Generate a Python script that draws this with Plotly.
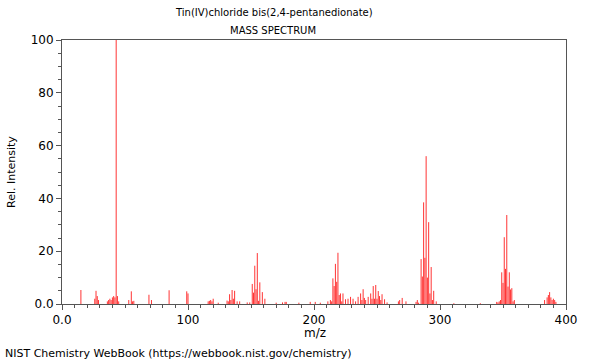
import plotly.graph_objects as go

# m/z values and relative intensities
mz = [15, 26, 27, 28, 29, 36, 37, 38, 39, 40, 41, 42, 43, 44, 45, 53, 55, 56, 57,
      69, 71, 85, 99, 100, 116, 117, 118, 119, 120, 124, 131, 132, 133, 134, 135,
      136, 137, 139, 141, 147, 149, 151, 152, 153, 154, 155, 156, 157, 159, 161,
      170, 175, 177, 178, 188, 197, 201, 205, 211, 213, 214, 215, 216, 217, 218,
      219, 220, 221, 222, 223, 225, 227, 229, 231, 233, 235, 237, 238, 239, 240,
      241, 243, 245, 246, 247, 248, 249, 250, 251, 252, 253, 254, 256, 258, 267,
      268, 270, 273, 281, 282, 283, 285, 286, 287, 288, 289, 290, 291, 292, 293,
      294, 295, 297, 311, 332, 345, 346, 347, 348, 349, 350, 351, 352, 353, 354,
      355, 356, 357, 358, 359, 383, 385, 386, 387, 388, 389, 390, 391, 392]
intensity = [5.3, 2.0, 5.0, 3.0, 1.5, 1.0, 1.5, 2.0, 1.5, 2.5, 3.0, 2.5, 100.0, 3.0, 1.0,
             1.5, 4.8, 1.0, 1.2, 3.5, 1.5, 5.2, 4.8, 4.0, 1.0, 1.2, 1.5, 1.0, 2.0, 0.5,
             1.3, 1.0, 3.7, 1.5, 5.3, 2.0, 5.0, 1.0, 1.0, 0.6, 0.6, 7.6, 4.3, 14.5, 5.6,
             19.3, 1.2, 8.2, 4.5, 2.0, 0.5, 0.6, 0.8, 0.8, 0.5, 0.8, 0.8, 0.5, 1.0, 1.5,
             1.0, 9.7, 6.8, 15.2, 8.4, 19.4, 3.4, 4.0, 1.0, 4.0, 1.8, 2.0, 2.7, 2.0, 1.0,
             2.7, 4.0, 1.5, 5.6, 2.3, 1.5, 2.7, 4.0, 2.0, 6.8, 2.0, 7.2, 2.0, 4.9, 3.0,
             1.5, 3.7, 1.8, 0.6, 1.0, 1.5, 2.3, 1.0, 0.8, 1.5, 0.5, 17.0, 10.4, 38.5,
             17.5, 56.0, 10.0, 31.0, 4.0, 14.0, 1.5, 5.0, 1.0, 0.3, 0.3, 0.8, 0.6, 1.0,
             1.5, 12.0, 8.0, 25.3, 13.3, 33.7, 6.6, 12.0, 5.5, 6.0, 1.0, 1.5, 1.5, 2.5,
             3.4, 4.5, 2.5, 1.5, 2.0, 1.5, 0.8]

x_tickvals = [0, 100, 200, 300, 400]
x_ticktext = ["0.0", "100", "200", "300", "400"]
y_tickvals = [0, 20, 40, 60, 80, 100]
y_ticktext = ["0.0", "20", "40", "60", "80", "100"]

title1 = "Tin(IV)chloride bis(2,4-pentanedionate)"
title2 = "MASS SPECTRUM"
footer = "NIST Chemistry WebBook (https://webbook.nist.gov/chemistry)"

# build stick segments
xs, ys = [], []
for m, v in zip(mz, intensity):
    xs += [m, m, None]
    ys += [0, v, None]

fig = go.Figure()
fig.add_trace(go.Scatter(x=xs, y=ys, mode="lines",
                         line=dict(color="rgba(255,0,0,0.8)", width=1),
                         hoverinfo="skip", showlegend=False))

FONT = "DejaVu Sans"
L, R, T, B = 62, 34, 40, 56
PW, PH = 600 - L - R, 360 - T - B

def px_x(px):
    return (px - L) / PW

def px_y(py):
    return (360 - B - py) / PH

axis_common = dict(showgrid=False, zeroline=False, showline=True, linecolor="#555",
                   linewidth=1, mirror=True, ticks="outside", ticklen=5,
                   tickcolor="#555", tickfont=dict(family=FONT, size=12, color="black"))

fig.update_layout(
    width=600, height=360,
    margin=dict(l=L, r=R, t=T, b=B, pad=0),
    plot_bgcolor="white", paper_bgcolor="white",
    font=dict(family=FONT, color="black"),
    showlegend=False,
    xaxis=dict(range=[0, 400], tickvals=x_tickvals, ticktext=x_ticktext,
               minor=dict(dtick=10, ticks="outside", ticklen=3, tickcolor="#555"),
               **axis_common),
    yaxis=dict(range=[0, 100], tickvals=y_tickvals, ticktext=y_ticktext,
               minor=dict(dtick=5, ticks="outside", ticklen=3, tickcolor="#555"),
               **axis_common),
    annotations=[
        dict(text=title1, x=px_x(274), y=px_y(13), xref="paper", yref="paper",
             xanchor="center", yanchor="middle", showarrow=False,
             font=dict(family=FONT, size=10, color="black")),
        dict(text=title2, x=px_x(273), y=px_y(30), xref="paper", yref="paper",
             xanchor="center", yanchor="middle", showarrow=False,
             font=dict(family=FONT, size=10, color="black")),
        dict(text="m/z", x=px_x(315), y=px_y(333), xref="paper", yref="paper",
             xanchor="center", yanchor="middle", showarrow=False,
             font=dict(family=FONT, size=12, color="black")),
        dict(text="Rel. Intensity", x=px_x(11), y=px_y(172), xref="paper", yref="paper",
             xanchor="center", yanchor="middle", showarrow=False, textangle=-90,
             font=dict(family=FONT, size=11, color="black")),
        dict(text=footer, x=px_x(3), y=px_y(353), xref="paper", yref="paper",
             xanchor="left", yanchor="middle", showarrow=False,
             font=dict(family=FONT, size=11, color="black")),
    ],
)

fig.write_html("out.html")
